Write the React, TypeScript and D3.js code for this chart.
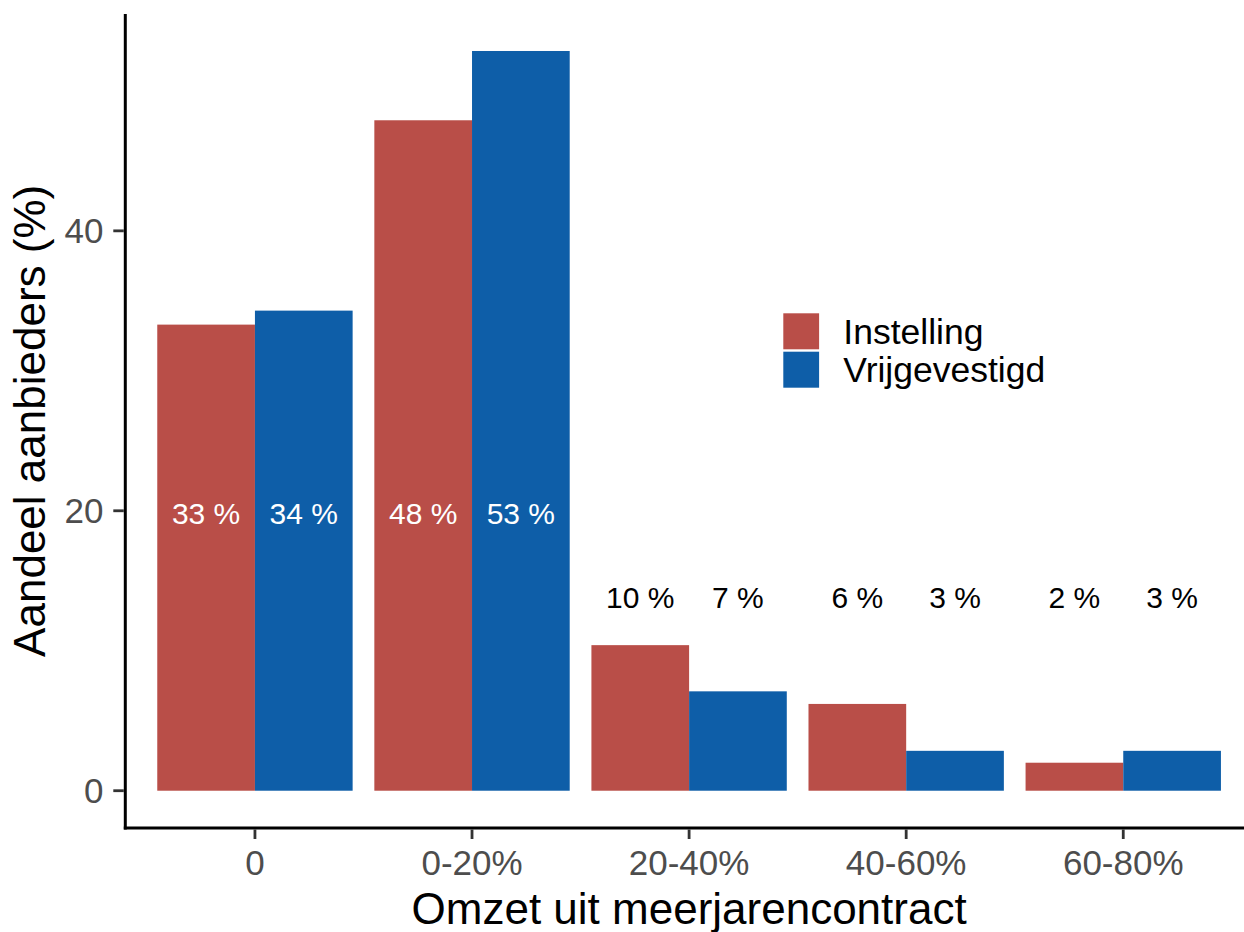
import React, { useEffect, useRef } from 'react';
import * as d3 from 'd3';

const categories = ['0', '0-20%', '20-40%', '40-60%', '60-80%'];
const series = ['Instelling', 'Vrijgevestigd'];
const instelling = [33.3, 47.9, 10.4, 6.2, 2.0];
const vrijgevestigd = [34.3, 52.85, 7.1, 2.85, 2.85];
const yTicks = [0, 20, 40];
const colors = ['#B94E48', '#0E5EA8'];

const WIDTH = 1244;
const HEIGHT = 932;
const FONT = '"Liberation Sans", Arial, Helvetica, sans-serif';

interface BarDatum {
  cat: string;
  key: string;
  value: number;
}

const App: React.FC = () => {
  const svgRef = useRef<SVGSVGElement>(null);

  useEffect(() => {
    if (!svgRef.current) return;
    const svg = d3.select(svgRef.current);
    svg.selectAll('*').remove();

    const bars: BarDatum[] = [];
    categories.forEach((c, i) => {
      bars.push({ cat: c, key: series[0], value: instelling[i] });
      bars.push({ cat: c, key: series[1], value: vrijgevestigd[i] });
    });

    const maxVal = d3.max(bars, d => d.value) ?? 0;

    // panel: left 124.7, top 14, bottom 827.7 (right side runs past the image)
    const x = d3.scaleBand<string>()
      .domain(categories)
      .range([124.7, 1253.5])
      .paddingInner(0.1)
      .paddingOuter(0.15);

    const xInner = d3.scaleBand<string>()
      .domain(series)
      .range([0, x.bandwidth()])
      .padding(0);

    const y = d3.scaleLinear()
      .domain([-0.05 * maxVal, maxVal * 1.05])
      .range([827.7, 14]);

    const color = d3.scaleOrdinal<string, string>().domain(series).range(colors);

    const g = svg.append('g');

    // bars
    g.selectAll('rect.bar')
      .data(bars)
      .enter()
      .append('rect')
      .attr('class', 'bar')
      .attr('x', d => (x(d.cat) ?? 0) + (xInner(d.key) ?? 0))
      .attr('width', xInner.bandwidth())
      .attr('y', d => y(d.value))
      .attr('height', d => y(0) - y(d.value))
      .attr('fill', d => color(d.key));

    // value labels
    g.selectAll('text.lbl')
      .data(bars)
      .enter()
      .append('text')
      .attr('class', 'lbl')
      .attr('x', d => (x(d.cat) ?? 0) + (xInner(d.key) ?? 0) + xInner.bandwidth() / 2)
      .attr('y', d => (d.value > 20 ? y(20) : y(14)) + 13)
      .attr('text-anchor', 'middle')
      .attr('font-family', FONT)
      .attr('font-size', 30)
      .attr('fill', d => (d.value > 20 ? '#ffffff' : '#000000'))
      .text(d => `${Math.round(d.value)} %`);

    // axes lines
    const axisLeft = 125.3;
    const axisBottom = 828;
    g.append('line')
      .attr('x1', axisLeft).attr('x2', axisLeft)
      .attr('y1', 14).attr('y2', axisBottom + 1.5)
      .attr('stroke', '#000').attr('stroke-width', 3);
    g.append('line')
      .attr('x1', axisLeft - 1.5).attr('x2', WIDTH)
      .attr('y1', axisBottom).attr('y2', axisBottom)
      .attr('stroke', '#000').attr('stroke-width', 3);

    // y ticks
    const yt = g.selectAll('g.ytick').data(yTicks).enter().append('g').attr('class', 'ytick');
    yt.append('line')
      .attr('x1', axisLeft - 12).attr('x2', axisLeft - 1.5)
      .attr('y1', d => y(d)).attr('y2', d => y(d))
      .attr('stroke', '#333333').attr('stroke-width', 2.8);
    yt.append('text')
      .attr('x', 103.5)
      .attr('y', d => y(d) + 12.5)
      .attr('text-anchor', 'end')
      .attr('font-family', FONT)
      .attr('font-size', 35)
      .attr('fill', '#4D4D4D')
      .text(d => String(d));

    // x ticks
    const xt = g.selectAll('g.xtick').data(categories).enter().append('g').attr('class', 'xtick');
    xt.append('line')
      .attr('x1', d => (x(d) ?? 0) + x.bandwidth() / 2)
      .attr('x2', d => (x(d) ?? 0) + x.bandwidth() / 2)
      .attr('y1', axisBottom + 1.5).attr('y2', axisBottom + 11)
      .attr('stroke', '#333333').attr('stroke-width', 2.8);
    xt.append('text')
      .attr('x', d => (x(d) ?? 0) + x.bandwidth() / 2)
      .attr('y', 875)
      .attr('text-anchor', 'middle')
      .attr('font-family', FONT)
      .attr('font-size', 35)
      .attr('fill', '#4D4D4D')
      .text(d => d);

    // axis titles
    g.append('text')
      .attr('x', (124.7 + 1253.5) / 2)
      .attr('y', 924)
      .attr('text-anchor', 'middle')
      .attr('font-family', FONT)
      .attr('font-size', 44)
      .attr('fill', '#000')
      .text('Omzet uit meerjarencontract');

    g.append('text')
      .attr('transform', `translate(45, ${(14 + 827.7) / 2}) rotate(-90)`)
      .attr('text-anchor', 'middle')
      .attr('font-family', FONT)
      .attr('font-size', 44)
      .attr('fill', '#000')
      .text('Aandeel aanbieders (%)');

    // legend
    const legend = g.append('g').attr('transform', 'translate(783.3, 313.3)');
    const items = legend.selectAll('g.item').data(series).enter().append('g')
      .attr('class', 'item')
      .attr('transform', (d, i) => `translate(0, ${i * 38.4})`);
    items.append('rect')
      .attr('width', 35.8)
      .attr('height', 36)
      .attr('fill', d => color(d));
    items.append('text')
      .attr('x', 60)
      .attr('y', 30.2)
      .attr('font-family', FONT)
      .attr('font-size', 35.5)
      .attr('fill', '#000')
      .text(d => d);
  }, []);

  return (
    <svg
      ref={svgRef}
      width={WIDTH}
      height={HEIGHT}
      style={{ position: 'absolute', left: 0, top: 0, background: '#fff' }}
    />
  );
};

export default App;
